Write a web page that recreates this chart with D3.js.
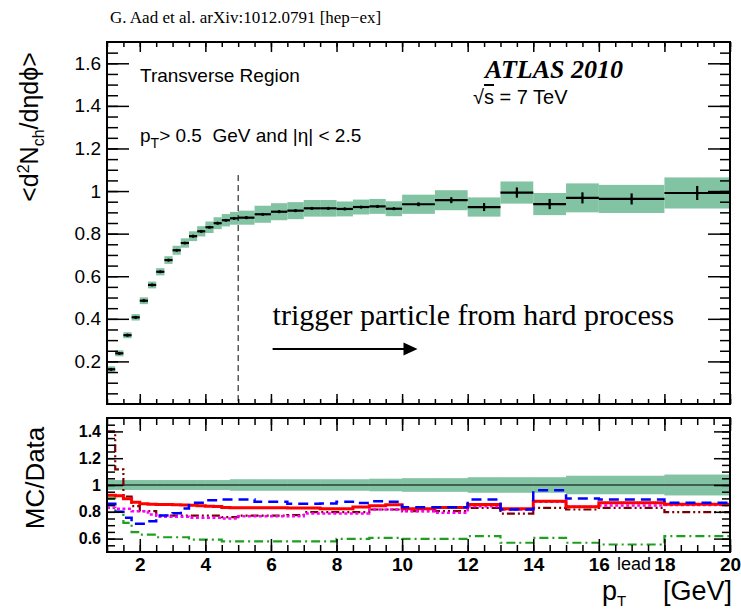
<!DOCTYPE html>
<html>
<head>
<meta charset="utf-8">
<script src="https://d3js.org/d3.v7.min.js"></script>
<style>
  body { margin: 0; background: #fff; }
  svg { display: block; font-family: "Liberation Sans", Arial, sans-serif; }
</style>
</head>
<body>
<script>
// bin edges of leading-track pT [GeV]
var binEdges = [1, 1.25, 1.5, 1.75, 2, 2.25, 2.5, 2.75, 3, 3.25, 3.5, 3.75, 4, 4.25, 4.5, 4.75,
                5, 5.5, 6, 6.5, 7, 7.5, 8, 8.5, 9, 9.5, 10, 11, 12, 13, 14, 15, 16, 18, 20];

// data: <d2Nch/deta dphi> per bin
var dataValues = [0.163, 0.238, 0.323, 0.407, 0.485, 0.559, 0.621, 0.676, 0.722, 0.756, 0.788, 0.811,
                  0.830, 0.849, 0.863, 0.872, 0.875, 0.891, 0.903, 0.908, 0.919, 0.919, 0.916, 0.925,
                  0.928, 0.917, 0.938, 0.957, 0.925, 0.993, 0.939, 0.968, 0.963, 0.991];
var dataStat = [0.004, 0.004, 0.004, 0.004, 0.004, 0.004, 0.004, 0.004, 0.004, 0.004, 0.004, 0.004,
                0.004, 0.004, 0.004, 0.004, 0.005, 0.005, 0.005, 0.005, 0.005, 0.005, 0.005, 0.005,
                0.005, 0.006, 0.009, 0.014, 0.019, 0.024, 0.024, 0.026, 0.026, 0.033];
var dataSyst = [0.014, 0.014, 0.014, 0.015, 0.016, 0.016, 0.017, 0.018, 0.021, 0.022, 0.023, 0.024,
                0.027, 0.028, 0.029, 0.030, 0.033, 0.040, 0.040, 0.040, 0.039, 0.039, 0.035, 0.035,
                0.035, 0.035, 0.045, 0.047, 0.045, 0.052, 0.052, 0.068, 0.066, 0.073];

// lower pad: relative systematic band and MC/Data ratios
var ratioSyst = [0.037, 0.037, 0.037, 0.037, 0.037, 0.037, 0.037, 0.037, 0.037, 0.037, 0.037, 0.037,
                 0.037, 0.037, 0.037, 0.043, 0.043, 0.043, 0.043, 0.043, 0.043, 0.043, 0.043, 0.043,
                 0.047, 0.047, 0.051, 0.051, 0.058, 0.058, 0.058, 0.069, 0.069, 0.078];
var mcRed = [0.924, 0.920, 0.897, 0.872, 0.860, 0.857, 0.855, 0.855, 0.852, 0.850, 0.848, 0.845,
             0.842, 0.840, 0.832, 0.830, 0.830, 0.830, 0.830, 0.828, 0.828, 0.822, 0.822, 0.835,
             0.845, 0.852, 0.822, 0.832, 0.854, 0.822, 0.879, 0.837, 0.867, 0.857];
var mcBlue = [0.860, 0.800, 0.755, 0.710, 0.710, 0.730, 0.772, 0.772, 0.790, 0.825, 0.867, 0.867,
              0.887, 0.887, 0.892, 0.892, 0.892, 0.875, 0.875, 0.860, 0.860, 0.862, 0.875, 0.865,
              0.878, 0.875, 0.834, 0.834, 0.892, 0.817, 0.961, 0.899, 0.892, 0.867];
var mcMagenta = [0.830, 0.822, 0.822, 0.805, 0.805, 0.780, 0.763, 0.763, 0.763, 0.763, 0.755, 0.755,
                 0.755, 0.755, 0.750, 0.750, 0.767, 0.767, 0.767, 0.767, 0.787, 0.787, 0.787, 0.787,
                 0.817, 0.817, 0.805, 0.792, 0.842, 0.817, 0.875, 0.837, 0.847, 0.850];
var mcMaroon = [1.400, 1.116, 0.914, 0.842, 0.805, 0.805, 0.772, 0.772, 0.772, 0.772, 0.772, 0.772,
                0.772, 0.772, 0.760, 0.760, 0.772, 0.772, 0.772, 0.775, 0.797, 0.797, 0.797, 0.797,
                0.817, 0.817, 0.805, 0.805, 0.830, 0.787, 0.830, 0.817, 0.830, 0.797];
var mcGreen = [0.900, 0.800, 0.718, 0.648, 0.630, 0.630, 0.610, 0.610, 0.610, 0.610, 0.593, 0.593,
               0.593, 0.593, 0.580, 0.580, 0.580, 0.580, 0.580, 0.580, 0.580, 0.580, 0.598, 0.598,
               0.606, 0.606, 0.598, 0.598, 0.618, 0.569, 0.606, 0.569, 0.556, 0.618];

// tick values
var xMajor = [2, 4, 6, 8, 10, 12, 14, 16, 18, 20];
var xMinor = d3.range(1, 20.01, 0.5);
var yTopMajor = [0.2, 0.4, 0.6, 0.8, 1, 1.2, 1.4, 1.6];
var yTopMinor = d3.range(0.05, 1.7, 0.05);
var yLowMajor = [0.6, 0.8, 1, 1.2, 1.4];
var yLowMinor = d3.range(0.55, 1.5, 0.05);

var W = 741, H = 610;
var svg = d3.select("body").append("svg").attr("width", W).attr("height", H);

var x = d3.scaleLinear().domain([1, 20]).range([107, 730]);
var yTop = d3.scaleLinear().domain([0, 1.7]).range([404, 42]);
var yLow = d3.scaleLinear().domain([0.5, 1.5]).range([552, 418]);

var bins = dataValues.map(function(v, i){
  return {lo: binEdges[i], hi: binEdges[i + 1], mid: (binEdges[i] + binEdges[i + 1]) / 2,
          v: v, stat: dataStat[i], syst: dataSyst[i], rsyst: ratioSyst[i]};
});

var green = "#82c3a3";
var serif = "Liberation Serif, Times New Roman, serif";

// inward tick marks, no labels
function tickMarks(axisFn, scale, values, size, tx, ty){
  svg.append("g")
    .attr("transform", "translate(" + tx + "," + ty + ")")
    .call(axisFn(scale).tickValues(values).tickSize(-size).tickFormat(""))
    .call(function(g){ g.select(".domain").remove(); })
    .selectAll("line").attr("stroke", "#000").attr("stroke-width", 1.5);
}

// ---------- upper pad ----------
svg.append("g").selectAll("rect")
  .data(bins).enter().append("rect")
    .attr("x", function(d){ return x(d.lo); })
    .attr("width", function(d){ return x(d.hi) - x(d.lo); })
    .attr("y", function(d){ return yTop(d.v + d.syst); })
    .attr("height", function(d){ return yTop(d.v - d.syst) - yTop(d.v + d.syst); })
    .attr("fill", green);

// dashed line at 5 GeV
svg.append("line")
  .attr("x1", x(5)).attr("x2", x(5))
  .attr("y1", yTop(1.075)).attr("y2", yTop(0))
  .attr("stroke", "#000").attr("stroke-width", 1).attr("stroke-dasharray", "6,4");

var pts = svg.append("g").attr("stroke", "#000").attr("stroke-width", 2.2);
pts.selectAll(".xerr").data(bins).enter().append("line")
  .attr("x1", function(d){ return x(d.lo); })
  .attr("x2", function(d){ return x(d.hi); })
  .attr("y1", function(d){ return yTop(d.v); })
  .attr("y2", function(d){ return yTop(d.v); });
pts.selectAll(".yerr").data(bins).enter().append("line")
  .attr("x1", function(d){ return x(d.mid); })
  .attr("x2", function(d){ return x(d.mid); })
  .attr("y1", function(d){ return yTop(d.v + d.stat); })
  .attr("y2", function(d){ return yTop(d.v - d.stat); });
svg.append("g").selectAll("circle").data(bins).enter().append("circle")
  .attr("cx", function(d){ return x(d.mid); })
  .attr("cy", function(d){ return yTop(d.v); })
  .attr("r", 1.6).attr("fill", "#000");

// frame and ticks
tickMarks(d3.axisBottom, x, xMajor, 10, 0, 404);
tickMarks(d3.axisBottom, x, xMinor, 5, 0, 404);
tickMarks(d3.axisTop, x, xMajor, 10, 0, 42);
tickMarks(d3.axisTop, x, xMinor, 5, 0, 42);
tickMarks(d3.axisLeft, yTop, yTopMajor, 22, 107, 0);
tickMarks(d3.axisLeft, yTop, yTopMinor, 11, 107, 0);
tickMarks(d3.axisRight, yTop, yTopMajor, 22, 730, 0);
tickMarks(d3.axisRight, yTop, yTopMinor, 10, 730, 0);
svg.append("rect").attr("x", 107).attr("y", 42).attr("width", 623).attr("height", 362)
  .attr("fill", "none").attr("stroke", "#000").attr("stroke-width", 2);

svg.append("g")
  .attr("transform", "translate(107,0)")
  .call(d3.axisLeft(yTop).tickValues(yTopMajor).tickSize(0).tickPadding(6).tickFormat(function(d){ return d; }))
  .call(function(g){ g.select(".domain").remove(); })
  .selectAll("text").attr("font-size", 19).attr("font-family", "Liberation Sans, Arial, sans-serif").attr("fill", "#000");

// y title upper
var yt = svg.append("text")
  .attr("transform", "translate(38,127) rotate(-90)")
  .attr("text-anchor", "middle").attr("font-size", 25);
yt.append("tspan").text("<d");
yt.append("tspan").attr("dy", -9).attr("font-size", 16).text("2");
yt.append("tspan").attr("dy", 9).text("N");
yt.append("tspan").attr("dy", 6).attr("font-size", 16).text("ch");
yt.append("tspan").attr("dy", -6).text("/dηdϕ>");

// annotations
svg.append("text").attr("x", 110).attr("y", 23)
  .attr("font-family", serif).attr("font-size", 17)
  .text("G. Aad et al. arXiv:1012.0791 [hep\u2212ex]");

svg.append("text").attr("x", 140).attr("y", 82).attr("font-size", 19).text("Transverse Region");
var cut = svg.append("text").attr("x", 140).attr("y", 142).attr("font-size", 19);
cut.append("tspan").text("p");
cut.append("tspan").attr("dy", 6).attr("font-size", 14).text("T");
cut.append("tspan").attr("dy", -6).text("> 0.5 \u00a0GeV and |η| < 2.5");

svg.append("text").attr("x", 485).attr("y", 78)
  .attr("font-family", serif)
  .attr("font-weight", "bold").attr("font-style", "italic").attr("font-size", 26)
  .text("ATLAS 2010");
var rs = svg.append("text").attr("x", 473).attr("y", 104).attr("font-size", 20);
rs.append("tspan").text("√");
rs.append("tspan").attr("style", "text-decoration: overline").text("s");
rs.append("tspan").text(" = 7 TeV");

svg.append("text").attr("x", x(6.05)).attr("y", yTop(0.371))
  .attr("font-family", serif).attr("font-size", 30)
  .text("trigger particle from hard process");
svg.append("line")
  .attr("x1", x(6.05)).attr("x2", x(10.1))
  .attr("y1", yTop(0.258)).attr("y2", yTop(0.258))
  .attr("stroke", "#000").attr("stroke-width", 2);
svg.append("path")
  .attr("d", "M" + x(10.47) + "," + yTop(0.258) + "l-14,-6.5v13z")
  .attr("fill", "#000");

// ---------- lower pad ----------
svg.append("g").selectAll("rect")
  .data(bins).enter().append("rect")
    .attr("x", function(d){ return x(d.lo); })
    .attr("width", function(d){ return x(d.hi) - x(d.lo) + 0.5; })
    .attr("y", function(d){ return yLow(1 + d.rsyst); })
    .attr("height", function(d){ return yLow(1 - d.rsyst) - yLow(1 + d.rsyst); })
    .attr("fill", green);
svg.append("line").attr("x1", x(1)).attr("x2", x(20))
  .attr("y1", yLow(1)).attr("y2", yLow(1)).attr("stroke", "#000").attr("stroke-width", 1.2);

var step = d3.line()
  .x(function(d){ return x(d[0]); })
  .y(function(d){ return yLow(d[1]); })
  .curve(d3.curveStepAfter);
function stepPoints(vals){
  var p = vals.map(function(v, i){ return [binEdges[i], v]; });
  p.push([binEdges[binEdges.length - 1], vals[vals.length - 1]]);
  return p;
}
var mcSeries = [
  {vals: mcGreen,   color: "#1f9e1f", width: 2.2, dash: "9,4,2,4"},
  {vals: mcMaroon,  color: "#7a0000", width: 2.2, dash: "8,3,2,3,2,3"},
  {vals: mcMagenta, color: "#ff00ff", width: 2.5, dash: "3,2.5"},
  {vals: mcRed,     color: "#ff0000", width: 3,   dash: null},
  {vals: mcBlue,    color: "#0000ff", width: 2.5, dash: "10,6"}
];
svg.append("g").selectAll("path").data(mcSeries).enter().append("path")
  .attr("d", function(d){ return step(stepPoints(d.vals)); })
  .attr("fill", "none")
  .attr("stroke", function(d){ return d.color; })
  .attr("stroke-width", function(d){ return d.width; })
  .attr("stroke-dasharray", function(d){ return d.dash; });

tickMarks(d3.axisBottom, x, xMajor, 13, 0, 552);
tickMarks(d3.axisBottom, x, xMinor, 7, 0, 552);
tickMarks(d3.axisTop, x, xMajor, 13, 0, 418);
tickMarks(d3.axisTop, x, xMinor, 7, 0, 418);
tickMarks(d3.axisLeft, yLow, yLowMajor, 16, 107, 0);
tickMarks(d3.axisLeft, yLow, yLowMinor, 8, 107, 0);
tickMarks(d3.axisRight, yLow, yLowMajor, 16, 730, 0);
tickMarks(d3.axisRight, yLow, yLowMinor, 8, 730, 0);
svg.append("rect").attr("x", 107).attr("y", 418).attr("width", 623).attr("height", 134)
  .attr("fill", "none").attr("stroke", "#000").attr("stroke-width", 2);

svg.append("g")
  .attr("transform", "translate(107,0)")
  .call(d3.axisLeft(yLow).tickValues(yLowMajor).tickSize(0).tickPadding(6).tickFormat(function(d){ return d; }))
  .call(function(g){ g.select(".domain").remove(); })
  .selectAll("text").attr("font-size", 16).attr("font-weight", "bold")
  .attr("font-family", "Liberation Sans, Arial, sans-serif").attr("fill", "#000");

svg.append("g")
  .attr("transform", "translate(0,552)")
  .call(d3.axisBottom(x).tickValues(xMajor).tickSize(0).tickPadding(6).tickFormat(function(d){ return d; }))
  .call(function(g){ g.select(".domain").remove(); })
  .selectAll("text").attr("font-size", 19).attr("font-weight", "bold")
  .attr("font-family", "Liberation Sans, Arial, sans-serif").attr("fill", "#000");

svg.append("text")
  .attr("transform", "translate(44,478) rotate(-90)")
  .attr("text-anchor", "middle").attr("font-size", 26).text("MC/Data");

// x title
svg.append("text").attr("x", 602).attr("y", 600).attr("font-size", 27).text("p");
svg.append("text").attr("x", 617).attr("y", 606).attr("font-size", 15).text("T");
svg.append("text").attr("x", 617).attr("y", 570).attr("font-size", 18).text("lead");
svg.append("text").attr("x", 732).attr("y", 600).attr("text-anchor", "end").attr("font-size", 27).text("[GeV]");
</script>
</body>
</html>
